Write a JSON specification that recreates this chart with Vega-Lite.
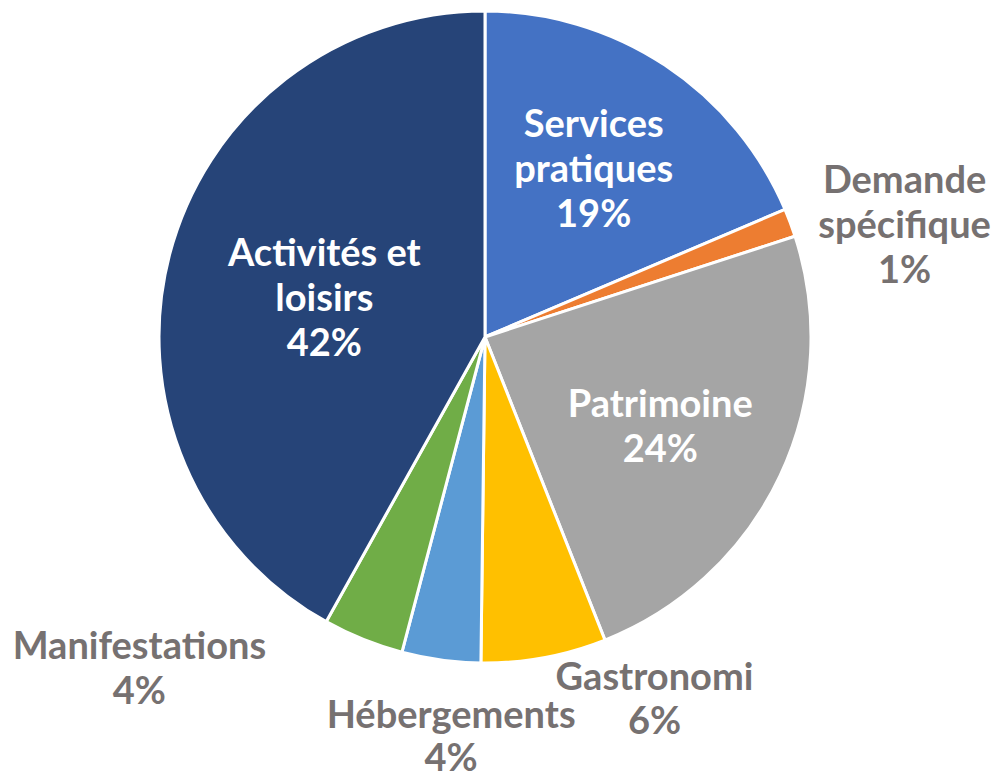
{
  "$schema": "https://vega.github.io/schema/vega-lite/v6.json",
  "autosize": {"type": "none"},
  "width": 970,
  "height": 674,
  "padding": {"left": 0, "top": 0, "right": 22, "bottom": 104},
  "background": "#ffffff",
  "config": {"view": {"stroke": null}, "text": {"font": "Lato", "fontWeight": "bold", "fontSize": 38, "lineHeight": 45, "lineBreak": "\n", "align": "center", "baseline": "middle"}},
  "data": {
    "values": [
      {"category": "Services pratiques", "label": "Services\npratiques", "share": 0.186, "order": 1},
      {"category": "Demande spécifique", "label": "Demande\nspécifique", "share": 0.014, "order": 2},
      {"category": "Patrimoine", "label": "Patrimoine", "share": 0.240, "order": 3},
      {"category": "Gastronomie", "label": "Gastronomi", "share": 0.062, "order": 4},
      {"category": "Hébergements", "label": "Hébergements", "share": 0.039, "order": 5},
      {"category": "Manifestations", "label": "Manifestations", "share": 0.040, "order": 6},
      {"category": "Activités et loisirs", "label": "Activités et\nloisirs", "share": 0.419, "order": 7}
    ]
  },
  "transform": [
    {"calculate": "datum.label + '\\n' + format(datum.share, '.0%')", "as": "text"}
  ],
  "encoding": {
    "theta": {"field": "share", "type": "quantitative", "stack": true},
    "order": {"field": "order", "type": "quantitative"}
  },
  "layer": [
    {
      "mark": {"type": "arc", "outerRadius": 326, "stroke": "#ffffff", "strokeWidth": 3},
      "encoding": {
        "color": {
          "field": "category",
          "type": "nominal",
          "legend": null,
          "scale": {
            "domain": ["Services pratiques", "Demande spécifique", "Patrimoine", "Gastronomie", "Hébergements", "Manifestations", "Activités et loisirs"],
            "range": ["#4472C4", "#ED7D31", "#A5A5A5", "#FFC000", "#5B9BD5", "#70AD47", "#264478"]
          }
        }
      }
    },
    {
      "mark": {"type": "text", "radius": 197, "dy": -47, "fill": "#ffffff"},
      "encoding": {"text": {"condition": {"test": "datum.order == 1", "field": "text"}, "value": ""}}
    },
    {
      "mark": {"type": "text", "radius": 197, "dx": -3, "dy": -15, "fill": "#ffffff"},
      "encoding": {"text": {"condition": {"test": "datum.order == 3", "field": "text"}, "value": ""}}
    },
    {
      "mark": {"type": "text", "radius": 166, "dy": -40, "fill": "#ffffff"},
      "encoding": {"text": {"condition": {"test": "datum.order == 7", "field": "text"}, "value": ""}}
    },
    {
      "mark": {"type": "text", "radius": 448, "dy": 2, "fill": "#767171"},
      "encoding": {"text": {"condition": {"test": "datum.order == 2", "field": "text"}, "value": ""}}
    },
    {
      "mark": {"type": "text", "radius": 400, "dx": 97, "dy": -51, "lineHeight": 44, "fill": "#767171"},
      "encoding": {"text": {"condition": {"test": "datum.order == 4", "field": "text"}, "value": ""}}
    },
    {
      "mark": {"type": "text", "radius": 400, "dx": 20, "dy": -16, "lineHeight": 43, "fill": "#767171"},
      "encoding": {"text": {"condition": {"test": "datum.order == 5", "field": "text"}, "value": ""}}
    },
    {
      "mark": {"type": "text", "radius": 400, "dx": -196, "dy": -60, "fill": "#767171"},
      "encoding": {"text": {"condition": {"test": "datum.order == 6", "field": "text"}, "value": ""}}
    }
  ]
}
